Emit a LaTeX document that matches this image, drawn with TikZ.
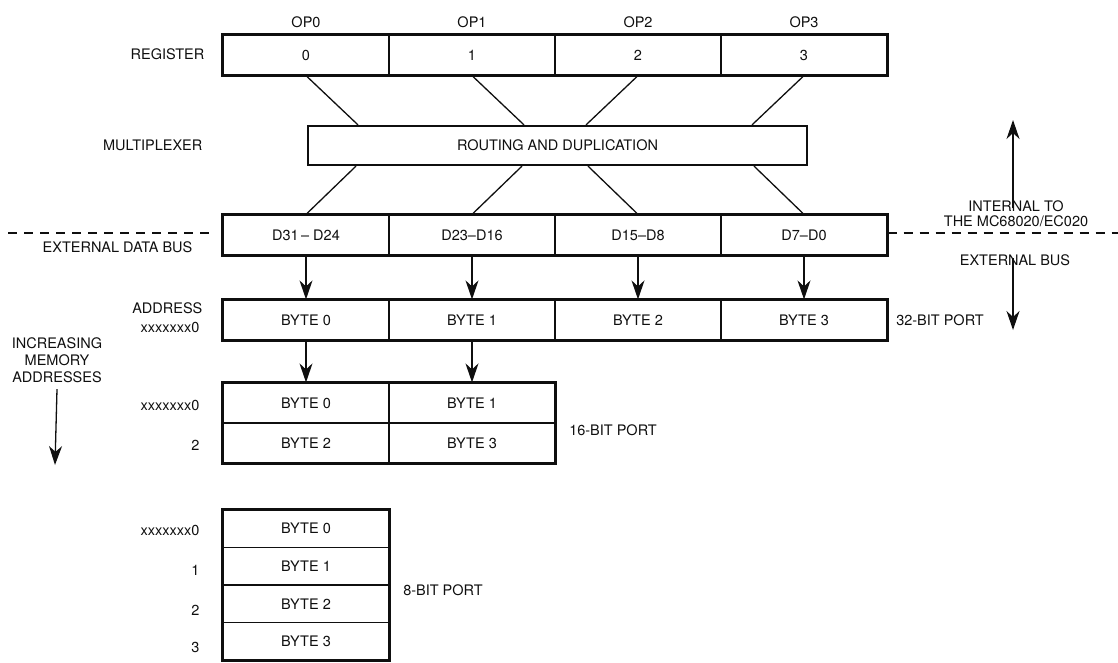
\documentclass[tikz,border=0pt]{standalone}
\usepackage{fontspec}
\setmainfont{TeX Gyre Heros}
\usetikzlibrary{arrows.meta,calc}
\definecolor{InkBlack}{RGB}{15,15,15}
\newcommand\figfont{\fontsize{14.5}{16}\selectfont}

\begin{document}
\begin{tikzpicture}[x=1pt, y=-1pt, line width=1.3pt, draw=InkBlack, text=InkBlack, font=\figfont,
    cell/.style={draw, line width=1.2pt, minimum width=166pt, minimum height=40pt, inner sep=0pt},
    tag/.style={anchor=east, inner sep=0pt},
    portlbl/.style={anchor=west, inner sep=0pt},
    flow/.style={-{Stealth[length=19pt, width=13pt, inset=6pt]}},
    divider/.style={dash pattern=on 9pt off 7pt}]
    \useasboundingbox (0,0) rectangle (1118,662);
    \def\cw{166}
    \def\xl{223}
    % register, data bus and 32-bit port rows
    \foreach \i in {0,...,3}{
        \pgfmathsetmacro{\cx}{\xl+\cw/2+\cw*\i}
        \node (op\i) at (\cx,22) {OP\i};
        \node[cell] (reg\i) at (\cx,55) {\i};
        \node[cell] (bus\i) at (\cx,235) {};
        \node[cell] (pb\i) at (\cx,320) {BYTE \i};
    }
    \node at (bus0) {D31\,– D24};
    \node at (bus1) {D23–D16};
    \node at (bus2) {D15–D8};
    \node at (bus3) {D7–D0};
    \node[draw, line width=2.2pt, minimum width=499pt, minimum height=39pt,
        inner sep=0pt] (mux) at (557.5,145.5) {ROUTING AND DUPLICATION};
    % 16-bit port
    \node[cell] (hw0) at (306,403) {BYTE 0};
    \node[cell] (hw1) at (472,403) {BYTE 1};
    \node[cell] (hw2) at (306,443) {BYTE 2};
    \node[cell] (hw3) at (472,443) {BYTE 3};
    % 8-bit port
    \foreach \i in {0,...,3}
        \node[cell, minimum height=37.5pt] (eb\i) at (306,528.75+37.5*\i) {BYTE \i};
    % heavy outlines
    \foreach \a/\b in {reg0/reg3, bus0/bus3, pb0/pb3, hw0/hw3, eb0/eb3}
        \draw[line width=2.2pt] (\a.north west) rectangle (\b.south east);
    % multiplexer lines
    \foreach \i/\s in {0/1, 1/1, 2/-1, 3/-1}{
        \draw (reg\i.south) -- ($(reg\i.south |- mux.north)+(\s*52,0)$);
        \draw ($(bus\i.north |- mux.south)+(\s*50,0)$) -- (bus\i.north);
        \draw[flow] (bus\i.south) -- (pb\i.north);
    }
    \draw[flow] (pb0.south) -- (hw0.north);
    \draw[flow] (pb1.south) -- (hw1.north);
    % boundary of the chip
    \coordinate (dashL) at (8,233);
    \coordinate (dashR) at (1118,233);
    \draw[divider] (dashL) -- ($(dashL -| bus0.west)+(-8,0)$);
    \draw[divider] (dashR -| bus3.east) -- (dashR);
    % left labels
    \node[tag] (lreg) at (205,54) {REGISTER};
    \node[tag] (lmux) at (203,145) {MULTIPLEXER};
    \node[tag] (lbus) at (193,247) {EXTERNAL DATA BUS};
    \node[tag] (laddr) at (203,308) {ADDRESS};
    \node[tag] (la32) at (200,327) {xxxxxxx0};
    \node[tag] (la16a) at (200,405) {xxxxxxx0};
    \node[tag] (la16b) at (200,445) {2};
    \node[tag] (la8a) at (200,530) {xxxxxxx0};
    \node[tag] (la8b) at (200,570) {1};
    \node[tag] (la8c) at (200,610) {2};
    \node[tag] (la8d) at (200,647) {3};
    \node[align=center, inner sep=0pt, font=\fontsize{14.5}{17}\selectfont]
        (incr) at (57,360) {INCREASING\\MEMORY\\ADDRESSES};
    \coordinate (incrend) at (55,465);
    \draw[flow] ([yshift=-6pt]incr.south) -- (incrend);
    % right labels
    \node[align=center, inner sep=0pt, font=\fontsize{14.5}{15}\selectfont]
        (internal) at (1016,214) {INTERNAL TO\\THE MC68020/EC020};
    \node[inner sep=0pt] (extbus) at (1015,260) {EXTERNAL BUS};
    \coordinate (upend) at (1013,120);
    \coordinate (downend) at (1013,330);
    \draw[flow] ([yshift=-8pt]internal.north -| upend) -- (upend);
    \draw[flow] ([yshift=8pt]extbus.south -| downend) -- (downend);
    \node[portlbl] (p32) at ([xshift=8pt]pb3.east) {32-BIT PORT};
    \node[portlbl] (p16) at ($(hw1.east |- 0,430)+(13,0)$) {16-BIT PORT};
    \node[portlbl] (p8) at ($(eb0.east |- 0,590)+(13,0)$) {8-BIT PORT};
\end{tikzpicture}
\end{document}
